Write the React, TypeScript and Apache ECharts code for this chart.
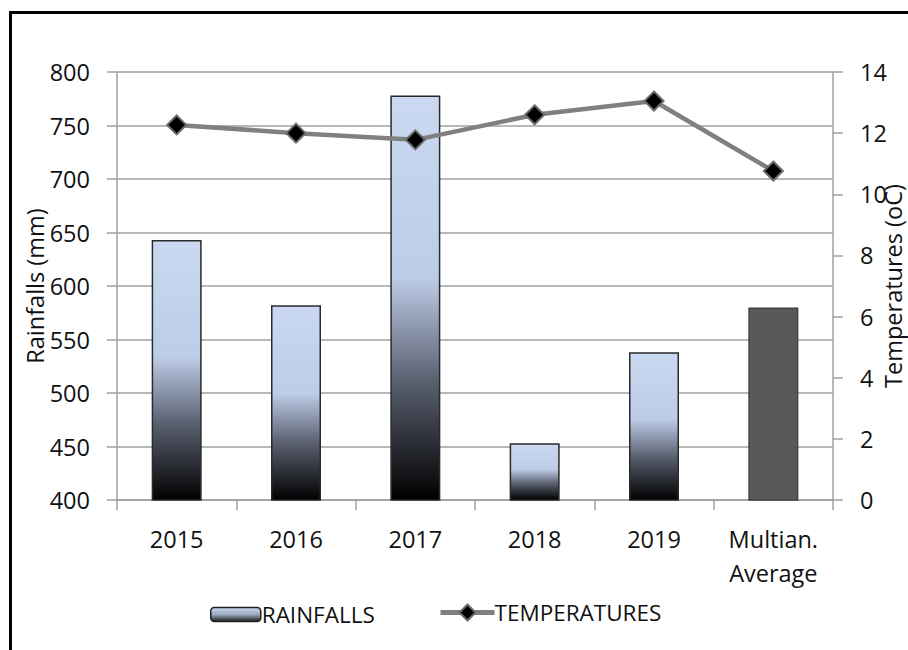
import React, { useEffect, useRef } from "react";
import * as echarts from "echarts";

const categories = ["2015", "2016", "2017", "2018", "2019", "Multian.\nAverage"];
const rainfalls = [643, 582, 778, 453, 538, 580];
const temperatures = [12.27, 12.0, 11.78, 12.6, 13.05, 10.76];
const rainTicks = { min: 400, max: 800, interval: 50 };
const tempTicks = { min: 0, max: 14, interval: 2 };

const FONT = "'Open Sans', 'Noto Sans', sans-serif";
const FS = 23.5;

export default function App() {
  const ref = useRef<HTMLDivElement>(null);
  useEffect(() => {
    document.body.style.margin = "0";
    const chart = echarts.init(ref.current!, undefined, { renderer: "svg" });
    const grad = new echarts.graphic.LinearGradient(0, 0, 0, 1, [
      { offset: 0, color: "#cad9f1" },
      { offset: 0.45, color: "#bdcce7" },
      { offset: 0.7, color: "#5c6272" },
      { offset: 1, color: "#000000" },
    ]);
    const barData = rainfalls.map((v, i) =>
      i === rainfalls.length - 1
        ? { value: v, itemStyle: { color: "#595959", borderColor: "#404040", borderWidth: 1.5 } }
        : v
    );
    const legendText = { fontFamily: FONT, fontSize: 22.5, color: "#111" };
    chart.setOption({
      animation: false,
      textStyle: { fontFamily: FONT },
      graphic: [
        {
          type: "rect",
          shape: { x: 10.5, y: 12.5, width: 1000, height: 1000 },
          style: { fill: "none", stroke: "#000", lineWidth: 3 },
          silent: true,
        },
      ],
      grid: { left: 117, right: 75, top: 72, bottom: 150, outerBoundsMode: "none", containLabel: false },
      legend: [
        {
          left: 205,
          top: 598,
          itemWidth: 50,
          itemHeight: 14,
          textStyle: { ...legendText, padding: [0, 0, 0, -4] },
          data: [
            {
              name: "RAINFALLS",
              itemStyle: {
                color: new echarts.graphic.LinearGradient(0, 0, 0, 1, [
                  { offset: 0, color: "#cad9f1" },
                  { offset: 0.5, color: "#9aa8c0" },
                  { offset: 1, color: "#1a1a1a" },
                ]),
                borderColor: "#222",
                borderWidth: 1.5,
              },
            },
          ],
        },
        {
          left: 433,
          top: 596,
          itemWidth: 54,
          itemHeight: 20,
          textStyle: { ...legendText, padding: [0, 0, 0, -5] },
          data: [{ name: "TEMPERATURES", lineStyle: { width: 5 } }],
        },
      ],
      xAxis: {
        type: "category",
        data: categories,
        boundaryGap: true,
        axisLine: { lineStyle: { color: "#a0a0a0", width: 1.5 } },
        axisTick: { show: true, length: 10, lineStyle: { color: "#a0a0a0", width: 1.5 } },
        axisLabel: { fontFamily: FONT, fontSize: FS, color: "#111", margin: 22, lineHeight: 34 },
      },
      yAxis: [
        {
          type: "value",
          ...rainTicks,
          name: "Rainfalls (mm)",
          nameLocation: "middle",
          nameGap: 70,
          nameMoveOverlap: false,
          nameTextStyle: { fontFamily: FONT, fontSize: FS, color: "#111" },
          axisLine: { show: true, lineStyle: { color: "#a0a0a0", width: 1.5 } },
          axisTick: { show: true, length: 10, lineStyle: { color: "#a0a0a0", width: 1.5 } },
          splitLine: { lineStyle: { color: "#a0a0a0", width: 1.5 } },
          axisLabel: { fontFamily: FONT, fontSize: FS, color: "#111", margin: 27 },
        },
        {
          type: "value",
          ...tempTicks,
          name: "Temperatures (oC)",
          nameLocation: "middle",
          nameGap: 48,
          nameRotate: 90,
          nameMoveOverlap: false,
          nameTextStyle: { fontFamily: FONT, fontSize: FS, color: "#111" },
          position: "right",
          axisLine: { show: true, lineStyle: { color: "#a0a0a0", width: 1.5 } },
          axisTick: { show: true, length: 10, lineStyle: { color: "#a0a0a0", width: 1.5 } },
          splitLine: { show: false },
          axisLabel: { fontFamily: FONT, fontSize: FS, color: "#111", margin: 27 },
        },
      ],
      series: [
        {
          name: "RAINFALLS",
          type: "bar",
          data: barData,
          barWidth: 50,
          yAxisIndex: 0,
          itemStyle: { color: grad, borderColor: "#2a2a2a", borderWidth: 1.5 },
        },
        {
          name: "TEMPERATURES",
          type: "line",
          data: temperatures,
          yAxisIndex: 1,
          symbol: "diamond",
          symbolSize: 19,
          lineStyle: { color: "#808080", width: 4.5 },
          itemStyle: { color: "#000", borderColor: "#6a6a6a", borderWidth: 2 },
        },
      ],
    });
    return () => chart.dispose();
  }, []);
  return <div ref={ref} style={{ width: 908, height: 650 }} />;
}
